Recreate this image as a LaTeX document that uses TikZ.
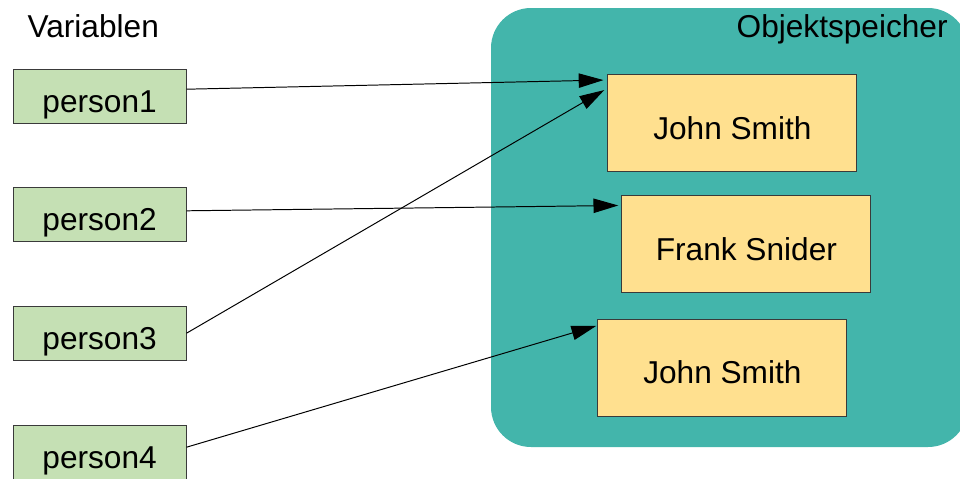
\documentclass[tikz,border=0pt]{standalone}
\usepackage{fontspec}
\setmainfont{Liberation Sans}
\usetikzlibrary{arrows.meta,positioning}
\definecolor{varColor}{HTML}{C5E0B4}
\definecolor{objColor}{HTML}{FFE08F}
\definecolor{heapColor}{HTML}{43B5AB}
\definecolor{edgeColor}{HTML}{3A3A3A}
\begin{document}
\begin{tikzpicture}[->,>={Triangle[length=0.62cm,width=0.36cm]},line width=0.7pt,
				font=\fontsize{22.5}{27}\selectfont,
				var/.style={draw=edgeColor,fill=varColor,minimum width=4.325cm,minimum height=1.35cm,inner sep=0,
					text height=0.85cm,text depth=0.05cm,line width=0.6pt},
				obj/.style={draw=edgeColor,fill=objColor,minimum width=6.225cm,minimum height=2.425cm,inner sep=0,
					text height=0.85cm,text depth=0.05cm,line width=0.6pt}]
				\useasboundingbox (0,0) rectangle (24,-11.95);
				
				% Objektspeicher
				\fill[heapColor, rounded corners=1cm] (12.275,-0.2) rectangle (24.2,-11.175);
				\node[anchor=base east] (heap) at (23.82,-0.93) {Objektspeicher};
				\node[anchor=base west] (vars) at (0.56,-0.93) {Variablen};
				
				\node[var] (v1) at (2.49,-2.4) {person1};
				\node[var] (v2) at (2.49,-5.37) {person2};
				\node[var] (v3) at (2.49,-8.33) {person3};
				\node[var] (v4) at (2.49,-11.3) {person4};
				
				\node[obj] (o1) at (18.31,-3.075) {John Smith};
				\node[obj] (o2) at (18.66,-6.11) {Frank Snider};
				\node[obj] (o3) at (18.06,-9.19) {John Smith};
				
				\path ([yshift=0.17cm]v1.east) edge ([xshift=-0.1cm,yshift=-0.15cm]o1.north west);
				\path ([yshift=0.1cm]v2.east) edge ([xshift=-0.08cm,yshift=-0.25cm]o2.north west);
				\path (v3.east) edge ([xshift=-0.08cm,yshift=-0.4cm]o1.north west);
				\path ([yshift=0.12cm]v4.east) edge ([xshift=-0.03cm,yshift=-0.18cm]o3.north west);
			\end{tikzpicture}
\end{document}
